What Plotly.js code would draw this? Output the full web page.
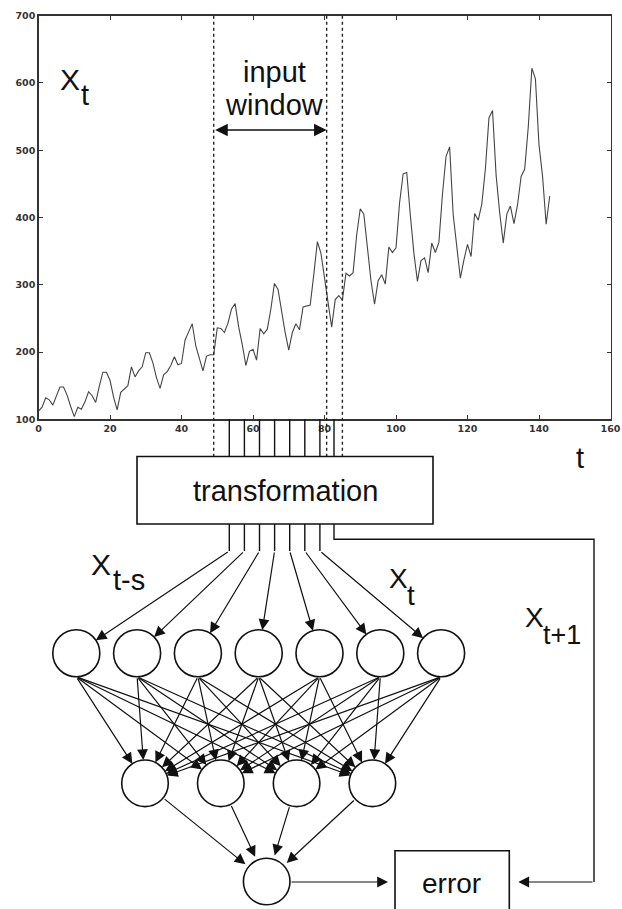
<!DOCTYPE html>
<html><head><meta charset="utf-8">
<script src="https://cdn.plot.ly/plotly-3.0.1.min.js"></script>
<style>html,body{margin:0;padding:0;background:#fff}</style>
</head><body><div id="chart" style="width:622px;height:909px"></div>
<script>
// ---- data ----
const passengers = [112,118,132,129,121,135,148,148,136,119,104,118,
115,126,141,135,125,149,170,170,158,133,114,140,
145,150,178,163,172,178,199,199,184,162,146,166,
171,180,193,181,183,218,230,242,209,191,172,194,
196,196,236,235,229,243,264,272,237,211,180,201,
204,188,235,227,234,264,302,293,259,229,203,229,
242,233,267,269,270,315,364,347,312,274,237,278,
284,277,317,313,318,374,413,405,355,306,271,306,
315,301,356,348,355,422,465,467,404,347,305,336,
340,318,362,348,363,435,491,505,404,359,310,337,
360,342,406,396,420,472,548,559,463,407,362,405,
417,391,419,461,472,535,622,606,508,461,390,432];
const months = passengers.map((_, i) => i);
const xTickVals = [0,20,40,60,80,100,120,140,160];
const yTickVals = [100,200,300,400,500,600,700];
const windowMarks = [49, 80.6, 85];
const windowArrowLevel = 530;

// ---- diagram geometry (pixel space of the page) ----
const W = 622, H = 909;
const plotPx = {l:38.5, r:610.5, t:15.7, b:419.3};
const box = {x0:137, x1:433, y0:456.5, y1:524};
const feed = {x0:229.3, dx:15.1, bendY:551};
const target = {x:334, turnY:539.3, rightX:594};
const inL = {n:7, x0:76.3, dx:60.8, y:653.3, r:23.5};
const hidL = {n:4, x0:145, dx:75.8, y:783.3, r:23.3};
const outN = {x:266.7, y:881.5, r:23.3};
const errBox = {x0:395, x1:509.3, y0:850.7, y1:940};
const errY = 882;

const FONT = 'Liberation Sans, Arial, Helvetica, sans-serif';
const shapes = [];
const annotations = [];
const P = {xref:'x2', yref:'y2'};

// dotted window lines
windowMarks.forEach(t => shapes.push({type:'line', xref:'x', yref:'y2', x0:t, x1:t, y0:plotPx.t, y1:box.y0,
  line:{color:'#222', width:1.4, dash:'dot'}}));
// feed lines (pass behind the box)
const feedXs = [];
for (let k = 0; k < inL.n; k++) feedXs.push(feed.x0 + k*feed.dx);
feedXs.forEach(x => shapes.push(Object.assign({type:'line', x0:x, x1:x, y0:plotPx.b, y1:feed.bendY,
  line:{color:'#111', width:1.4}}, P)));
// target path
shapes.push(Object.assign({type:'path',
  path:`M${target.x},${plotPx.b} L${target.x},${target.turnY} L${target.rightX},${target.turnY} L${target.rightX},${errY}`,
  line:{color:'#111', width:1.4}}, P));
// transformation box
shapes.push(Object.assign({type:'rect', x0:box.x0, x1:box.x1, y0:box.y0, y1:box.y1,
  fillcolor:'#fff', line:{color:'#111', width:1.6}}, P));
// error box
shapes.push(Object.assign({type:'rect', x0:errBox.x0, x1:errBox.x1, y0:errBox.y0, y1:errBox.y1,
  fillcolor:'rgba(0,0,0,0)', line:{color:'#111', width:1.6}}, P));

const inNodes = [], hidNodes = [];
for (let i = 0; i < inL.n; i++) inNodes.push({x:inL.x0 + i*inL.dx, y:inL.y, r:inL.r});
for (let i = 0; i < hidL.n; i++) hidNodes.push({x:hidL.x0 + i*hidL.dx, y:hidL.y, r:hidL.r});
[...inNodes, ...hidNodes, outN].forEach(n => shapes.push(Object.assign({type:'circle',
  x0:n.x-n.r, x1:n.x+n.r, y0:n.y-n.r, y1:n.y+n.r, line:{color:'#111', width:1.6}}, P)));

function arrow(x, y, ax, ay, standoff, extra) {
  annotations.push(Object.assign({xref:'x2', yref:'y2', axref:'x2', ayref:'y2', x, y, ax, ay, text:'',
    showarrow:true, arrowhead:2, arrowsize:1.8, arrowwidth:1.2, arrowcolor:'#111', standoff:standoff||0}, extra||{}));
}
// feed -> input nodes
inNodes.forEach((n, i) => arrow(n.x, n.y, feedXs[i], feed.bendY, n.r));
// input -> hidden
inNodes.forEach(a => hidNodes.forEach(b => arrow(b.x, b.y, a.x, a.y + a.r, b.r)));
// hidden -> output
hidNodes.forEach(h => arrow(outN.x, outN.y, h.x, h.y, outN.r + 4, {startstandoff:h.r}));
// output -> error
arrow(errBox.x0 - 7, errY, outN.x + outN.r, errY, 0);
// target -> error
arrow(errBox.x1 + 9, errY, target.rightX, errY, 0);
// input window double arrow
annotations.push({xref:'x', yref:'y', axref:'x', ayref:'y', x:windowMarks[1], y:windowArrowLevel,
  ax:windowMarks[0], ay:windowArrowLevel, text:'', showarrow:true, arrowside:'end+start',
  arrowhead:2, startarrowhead:2, arrowsize:1.8, startarrowsize:1.8, arrowwidth:1.4, arrowcolor:'#111'});

function txt(text, x, baseline, anchor, size) {
  annotations.push({xref:'x2', yref:'y2', x, y:baseline - 0.35*size, xanchor:anchor, yanchor:'middle',
    text, showarrow:false, font:{family:FONT, size, color:'#111'}});
}
txt('X', 58, 90, 'left', 30);
txt('t', 79, 105, 'left', 29);
txt('input', 274, 82, 'center', 29);
txt('window', 274, 115, 'center', 29);
txt('t', 574, 468, 'left', 29);
txt('transformation', 285, 501.5, 'center', 29);
txt('X', 89, 575, 'left', 30);
txt('t-s', 111, 590, 'left', 29);
txt('X', 387, 588, 'left', 28);
txt('t', 405, 605, 'left', 28);
txt('X', 523, 627, 'left', 28);
txt('t+1', 541, 644, 'left', 27);
txt('error', 451, 893, 'center', 28);

const axisCommon = {ticks:'inside', ticklen:4, tickwidth:1, tickcolor:'#333', mirror:'ticks',
  showline:true, linecolor:'#333', linewidth:1.3, showgrid:false, zeroline:false,
  tickfont:{family:'DejaVu Sans, sans-serif', size:9.5, weight:'bold', color:'#333'}};

const data = [
  {type:'scatter', mode:'lines', x:months, y:passengers, xaxis:'x', yaxis:'y',
   line:{color:'#444', width:1.1}, hoverinfo:'skip', showlegend:false},
  {type:'scatter', mode:'lines', x:[], y:[], xaxis:'x2', yaxis:'y2', showlegend:false, hoverinfo:'skip'}
];
const layout = {
  width:W, height:H, margin:{l:0, r:0, t:0, b:0},
  paper_bgcolor:'#fff', plot_bgcolor:'rgba(0,0,0,0)', showlegend:false,
  xaxis:Object.assign({domain:[plotPx.l/W, plotPx.r/W], range:[0,160], tickvals:xTickVals, anchor:'y'}, axisCommon),
  yaxis:Object.assign({domain:[1 - plotPx.b/H, 1 - plotPx.t/H], range:[100,700], tickvals:yTickVals, anchor:'x'}, axisCommon),
  xaxis2:{domain:[0,1], range:[0,W], visible:false, anchor:'y2', fixedrange:true},
  yaxis2:{domain:[0,1], range:[H,0], visible:false, anchor:'x2', fixedrange:true},
  shapes, annotations
};
Plotly.newPlot('chart', data, layout, {staticPlot:true});
</script></body></html>
